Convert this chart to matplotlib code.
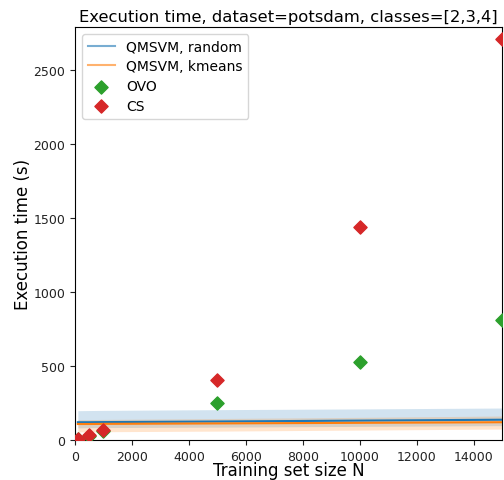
import matplotlib
matplotlib.use("Agg")
import matplotlib.pyplot as plt

# training set sizes
N = [100, 500, 1000, 5000, 10000, 15000]

# QMSVM mean times and spread
random_mean = [120, 120, 121, 125, 131, 137]
random_hi = [198, 199, 200, 205, 210, 216]
random_lo = [82, 83, 84, 87, 92, 97]

kmeans_mean = [108, 108, 109, 112, 116, 120]
kmeans_hi = [137, 138, 139, 145, 153, 162]
kmeans_lo = [54, 55, 56, 60, 67, 74]

# baselines
ovo_time = [8, 30, 60, 252, 530, 808]
cs_time = [10, 35, 65, 405, 1440, 2706]

fig = plt.figure(figsize=(5.04, 4.81), dpi=100)
ax = fig.add_axes([75 / 504, 40 / 481, 427 / 504, 413 / 481])

ax.plot(N, random_mean, color="tab:blue", label="QMSVM, random")
ax.fill_between(N, random_lo, random_hi, color="tab:blue", alpha=0.2, linewidth=0)
ax.plot(N, kmeans_mean, color="tab:orange", label="QMSVM, kmeans")
ax.fill_between(N, kmeans_lo, kmeans_hi, color="tab:orange", alpha=0.2, linewidth=0)

ax.scatter(N, ovo_time, marker="D", s=45, color="tab:green", label="OVO", zorder=3)
ax.scatter(N, cs_time, marker="D", s=45, color="tab:red", label="CS", zorder=3)

ax.set_xlim(0, 15000)
ax.set_ylim(0, 2790)
ax.set_xlabel("Training set size N", fontsize=12, labelpad=-1)
ax.set_ylabel("Execution time (s)", fontsize=12, labelpad=1)
ax.set_title("Execution time, dataset=potsdam, classes=[2,3,4]", fontsize=11.8, pad=4)
ax.tick_params(labelsize=9, colors="#222222")

leg = ax.legend(loc="upper left", fontsize=10, labelspacing=0.42)
for h in leg.legend_handles[:2]:
    h.set_alpha(0.6)

fig.savefig("out.png", dpi=100)
